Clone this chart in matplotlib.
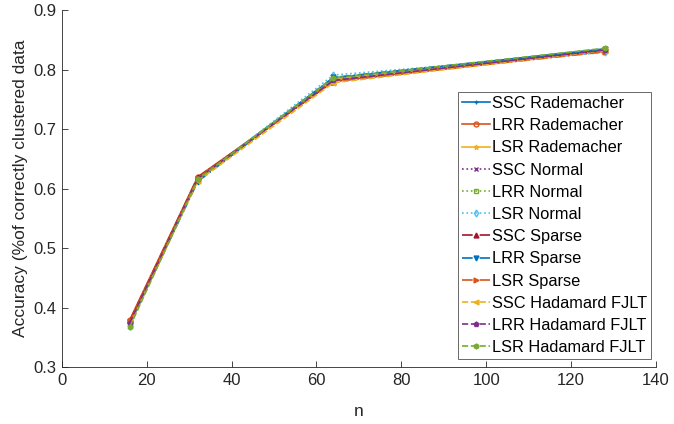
import numpy as np
import matplotlib.pyplot as plt

plt.rcParams['font.family'] = ['Liberation Sans', 'DejaVu Sans']

n = [16, 32, 64, 128]

labels = ["SSC Rademacher", "LRR Rademacher", "LSR Rademacher",
          "SSC Normal", "LRR Normal", "LSR Normal",
          "SSC Sparse", "LRR Sparse", "LSR Sparse",
          "SSC Hadamard FJLT", "LRR Hadamard FJLT", "LSR Hadamard FJLT"]

acc = [
    [0.375, 0.617, 0.786, 0.835],
    [0.380, 0.620, 0.781, 0.831],
    [0.372, 0.614, 0.783, 0.832],
    [0.376, 0.616, 0.782, 0.833],
    [0.374, 0.618, 0.785, 0.834],
    [0.370, 0.615, 0.791, 0.829],
    [0.378, 0.619, 0.780, 0.833],
    [0.373, 0.612, 0.787, 0.834],
    [0.377, 0.618, 0.781, 0.830],
    [0.371, 0.613, 0.778, 0.832],
    [0.375, 0.617, 0.782, 0.833],
    [0.368, 0.616, 0.786, 0.836],
]

colors = ["#0072BD", "#D95319", "#EDB120", "#7E2F8E", "#77AC30", "#4DBEEE", "#A2142F",
          "#0072BD", "#D95319", "#EDB120", "#7E2F8E", "#77AC30"]
markers = ["+", "o", "*", "x", "s", "d", "^", "v", ">", "<", "p", "h"]
styles = ["-", "-", "-", ":", ":", ":", "-.", "-.", "-.", "--", "--", "--"]

fig = plt.figure(figsize=(6.74, 4.24), dpi=100)
ax = fig.add_axes([0.092, 0.134, 0.881, 0.842])

for vals, lab, c, m, ls in zip(acc, labels, colors, markers, styles):
    ax.plot(n, vals, color=c, marker=m, linestyle=ls, linewidth=1.2,
            markersize=3.5, markerfacecolor='none' if m in "o s d".split() else c,
            label=lab)

ax.set_xlim(0, 140)
ax.set_ylim(0.3, 0.9)
ax.set_xticks(np.arange(0, 141, 20))
ax.set_yticks(np.arange(0.3, 0.91, 0.1))
ax.set_yticklabels(["0.3", "0.4", "0.5", "0.6", "0.7", "0.8", "0.9"])
ax.spines['top'].set_visible(False)
ax.spines['right'].set_visible(False)
for s in ['left', 'bottom']:
    ax.spines[s].set_color('#262626')
    ax.spines[s].set_linewidth(0.6)
ax.tick_params(direction='in', length=4, width=0.6, colors='#262626',
               labelsize=12, labelcolor='#262626', pad=4)
ax.set_xlabel("n", fontsize=12.5, color='#262626', labelpad=12)
ax.set_ylabel("Accuracy (%of correctly clustered data", fontsize=12.5,
              color='#262626', labelpad=4)

leg = ax.legend(loc='lower right', bbox_to_anchor=(0.992, 0.022), fontsize=11.8,
                frameon=True, fancybox=False, edgecolor='#262626',
                handlelength=1.7, handletextpad=0.1, labelspacing=0.44,
                borderaxespad=0, borderpad=0.25)
leg.get_frame().set_linewidth(0.6)

fig.savefig("out.png", dpi=100)
